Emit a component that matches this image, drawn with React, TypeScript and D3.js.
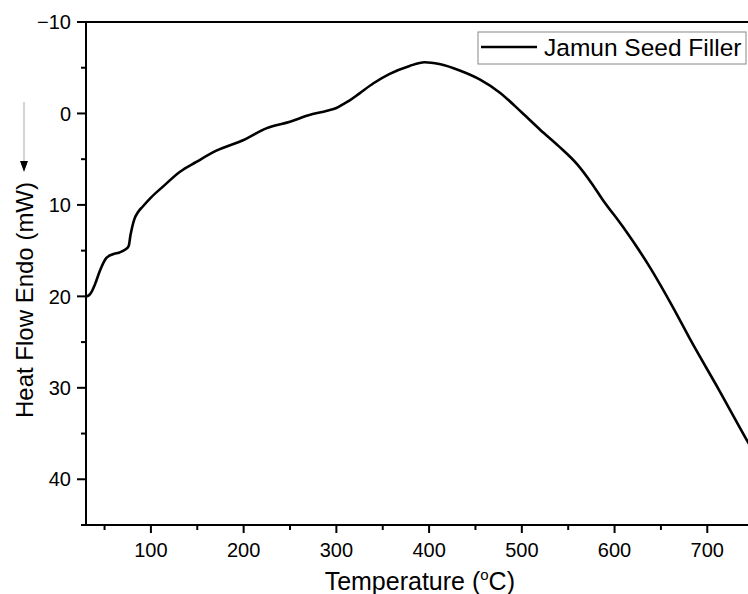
import React from "react";
import * as d3 from "d3";

const temperature = [30, 33, 36, 40, 45, 52, 59, 66, 72, 76, 78, 82, 86, 91, 100, 113, 131, 149, 170, 200, 225, 250, 270, 290, 300, 307, 314, 325, 340, 357, 379, 395, 411, 433, 455, 476, 500, 520, 540, 560, 575, 587, 609, 638, 663, 681, 713, 742, 750];
const heatFlow = [20.0, 19.9, 19.5, 18.6, 17.2, 15.8, 15.4, 15.2, 14.9, 14.5, 13.3, 11.6, 10.8, 10.2, 9.2, 8.0, 6.4, 5.3, 4.1, 2.9, 1.6, 0.9, 0.2, -0.3, -0.6, -1.0, -1.4, -2.2, -3.3, -4.3, -5.2, -5.6, -5.4, -4.7, -3.7, -2.3, -0.1, 1.8, 3.6, 5.6, 7.6, 9.4, 12.4, 16.8, 21.2, 24.6, 30.3, 35.6, 37.0];
const xMajorTicks = [100, 200, 300, 400, 500, 600, 700];
const xMinorTicks = [50, 150, 250, 350, 450, 550, 650, 750];
const yMajorTicks = [-10, 0, 10, 20, 30, 40];
const yMinorTicks = [-5, 5, 15, 25, 35, 45];
const seriesName = "Jamun Seed Filler";

const W = 748;
const H = 594;
const left = 86;
const top = 22;
const bottom = 525;

export default function App() {
  const x = d3.scaleLinear().domain([30, 750]).range([left, left + 720 * 0.9273]);
  const y = d3.scaleLinear().domain([-10, 45]).range([top, bottom]);
  const data = temperature.map((t, i) => [t, heatFlow[i]] as [number, number]);
  const line = d3
    .line<[number, number]>()
    .x((d) => x(d[0]))
    .y((d) => y(d[1]))
    .curve(d3.curveMonotoneX);
  const font = "'Liberation Sans', Arial, sans-serif";
  const right = x(750);
  return (
    <svg
      width={W}
      height={H}
      style={{ position: "absolute", left: 0, top: 0, background: "#fff" }}
      fontFamily={font}
    >
      <rect x={0} y={0} width={W} height={H} fill="#fff" />
      <path d={line(data) || ""} fill="none" stroke="#000" strokeWidth={2.6} />
      {/* axes */}
      <line x1={left} x2={right} y1={top} y2={top} stroke="#000" strokeWidth={2} />
      <line x1={right} x2={right} y1={top} y2={bottom} stroke="#000" strokeWidth={2} />
      <line x1={left} x2={right} y1={bottom} y2={bottom} stroke="#000" strokeWidth={2} />
      <line x1={left} x2={left} y1={top} y2={bottom} stroke="#000" strokeWidth={2} />
      {xMajorTicks.map((t) => (
        <g key={"xm" + t}>
          <line x1={x(t)} x2={x(t)} y1={bottom} y2={bottom + 8} stroke="#000" strokeWidth={2} />
          <text x={x(t)} y={557} textAnchor="middle" fontSize={20} fill="#000">
            {t}
          </text>
        </g>
      ))}
      {xMinorTicks.map((t) => (
        <line key={"xn" + t} x1={x(t)} x2={x(t)} y1={bottom} y2={bottom + 5} stroke="#000" strokeWidth={2} />
      ))}
      {yMajorTicks.map((t) => (
        <g key={"ym" + t}>
          <line x1={left - 9} x2={left} y1={y(t)} y2={y(t)} stroke="#000" strokeWidth={2} />
          <text x={71} y={y(t)} dy="0.36em" textAnchor="end" fontSize={20} fill="#000">
            {t < 0 ? "\u2212" + Math.abs(t) : t}
          </text>
        </g>
      ))}
      {yMinorTicks.map((t) => (
        <line key={"yn" + t} x1={left - 5} x2={left} y1={y(t)} y2={y(t)} stroke="#000" strokeWidth={2} />
      ))}
      {/* x title */}
      <text x={(left + right) / 2} y={590} textAnchor="middle" fontSize={25} fill="#000">
        Temperature (
        <tspan fontSize={15} dy={-10}>o</tspan>
        <tspan dy={10}>C)</tspan>
      </text>
      {/* y title */}
      <text
        transform={`translate(33, 300) rotate(-90)`}
        textAnchor="middle"
        fontSize={24}
        fill="#000"
      >
        Heat Flow Endo (mW)
      </text>
      <line x1={24} x2={24} y1={102} y2={162} stroke="#aaa" strokeWidth={1} />
      <path d="M20,161 L28,161 L24,172 Z" fill="#000" />
      {/* legend */}
      <rect x={478} y={32} width={268} height={32} fill="#fff" stroke="#888" strokeWidth={1} />
      <line x1={481} x2={537} y1={47} y2={47} stroke="#000" strokeWidth={2.6} />
      <text x={544} y={56} fontSize={24.5} fill="#000">
        {seriesName}
      </text>
    </svg>
  );
}
